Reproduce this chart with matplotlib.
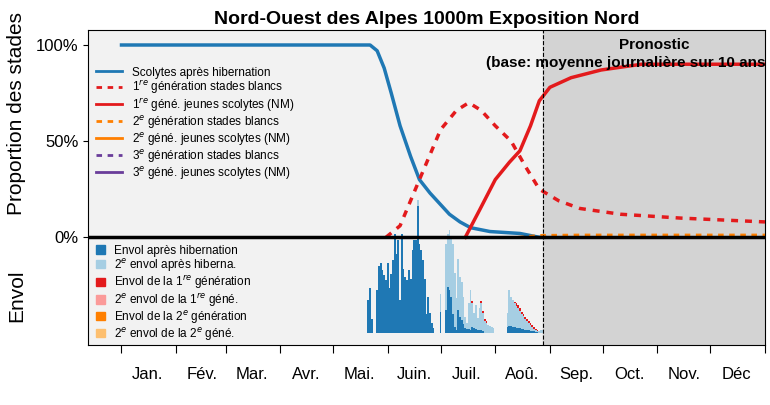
import matplotlib.pyplot as plt
from matplotlib.patches import Patch
from matplotlib.lines import Line2D

plt.rcParams["font.family"] = "Liberation Sans"

# courbes (jour de l'année, proportion)
blue_x = [0, 141, 145, 149, 153, 158, 164, 169, 175, 181, 186, 192, 198, 209, 226, 237, 240]
blue_y = [1.0, 1.0, 0.97, 0.88, 0.75, 0.58, 0.42, 0.30, 0.23, 0.17, 0.12, 0.08, 0.05, 0.03, 0.02, 0.0, 0.0]
red_dash_x = [150, 158, 169, 181, 190, 197, 204, 212, 221, 229, 237, 248, 260, 283, 317, 365]
red_dash_y = [0.0, 0.06, 0.30, 0.56, 0.66, 0.70, 0.66, 0.58, 0.50, 0.37, 0.25, 0.19, 0.15, 0.12, 0.10, 0.08]
red_x = [195, 203, 212, 220, 226, 232, 237, 243, 255, 272, 295, 365]
red_y = [0.0, 0.14, 0.30, 0.39, 0.45, 0.58, 0.71, 0.78, 0.83, 0.87, 0.90, 0.90]
orange_dash_x = [225, 237, 260, 300, 365]
orange_dash_y = [0.0, 0.01, 0.012, 0.012, 0.012]

# envols journaliers (en pixels de hauteur, à partir du jour 140)
day_start = 140
dark = [33, 45, 14, 0, 0,
        43, 67, 70, 63, 58, 53, 70, 45, 59, 73, 99, 79, 93, 33, 99, 64, 56, 53, 63, 54,
        83, 93, 93, 127, 89, 83, 73, 54, 19, 36, 20, 10, 5, 0, 0, 0, 21,
        0, 0, 23, 46, 43, 36, 19, 6, 3, 23, 16, 13, 9, 5, 4, 4, 3, 6, 5, 4, 3, 3, 3, 2,
        0, 0, 0, 0, 0, 0, 0, 0, 0, 0, 0, 0, 0,
        6, 7, 7, 6, 6, 5, 5, 5, 4, 4, 3, 3, 3, 2, 2, 2, 1, 1, 0, 0, 0]
light = [0, 0, 0, 0, 0,
         0, 0, 0, 0, 0, 0, 0, 0, 0, 0, 0, 0, 0, 0, 0, 0, 0, 0, 0, 0,
         0, 0, 0, 6, 0, 0, 0, 0, 0, 0, 0, 0, 0, 0, 0, 0, 18,
         0, 0, 66, 53, 60, 60, 70, 54, 32, 51, 40, 38, 27, 11, 6, 26, 40, 24, 15, 24, 12, 22, 27, 18,
         12, 10, 8, 7, 6, 5, 0, 0, 0, 0, 0, 0, 0,
         14, 36, 29, 27, 24, 22, 20, 17, 15, 13, 11, 9, 7, 6, 4, 2, 2, 1, 2, 3, 3]
red = [0] * 59 + [2, 0, 0, 0, 0, 2, 2, 2, 2, 0, 0, 0, 0, 0, 0, 0, 0, 0, 0, 0, 0, 0, 0, 0,
                 1, 3, 3, 3, 2, 2, 2, 2, 2, 2, 2, 2, 1, 1, 0, 0, 0, 0, 0, 0, 0]
red = red[:len(dark)]

months = ["Jan.", "Fév.", "Mar.", "Avr.", "Mai.", "Juin.", "Juil.", "Aoû.", "Sep.", "Oct.", "Nov.", "Déc"]
month_starts = [0, 31, 59, 90, 120, 151, 181, 212, 243, 273, 304, 334, 365]
forecast_day = 239

fig = plt.figure(figsize=(7.7, 4.05), dpi=100)
ax = fig.add_axes([88 / 770, 1 - 345 / 405, 677 / 770, 315 / 405])
ax.set_xlim(-19, 365)
ax.set_ylim(-0.56, 1.078)
ax.axvspan(-19, forecast_day, color="#f2f2f2", zorder=0)
ax.axvspan(forecast_day, 365, color="#d3d3d3", zorder=0)
ax.axvline(forecast_day, color="black", ls="--", lw=0.8, zorder=5)

base = -0.5
days = [day_start + i for i in range(len(dark))]
d = [v / 192 for v in dark]
l = [v / 192 for v in light]
r = [v / 192 for v in red]
ax.bar(days, d, bottom=base, width=1.0, color="#1f78b4", zorder=2)
ax.bar(days, l, bottom=[base + a for a in d], width=1.0, color="#a6cee3", zorder=2)
ax.bar(days, r, bottom=[base + a + b for a, b in zip(d, l)], width=1.0, color="#e31a1c", zorder=2)

ax.plot(blue_x, blue_y, color="#1f78b4", lw=2.5, zorder=3)
ax.plot(red_dash_x, red_dash_y, color="#e31a1c", lw=2.5, ls=(0, (2, 2)), zorder=3)
ax.plot(red_x, red_y, color="#e31a1c", lw=2.5, zorder=3)
ax.plot(orange_dash_x, orange_dash_y, color="#ff7f00", lw=2, ls=(0, (2, 2)), zorder=3)
ax.axhline(0, color="black", lw=2.5, zorder=4)

ax.set_yticks([0, 0.5, 1.0])
ax.set_yticklabels(["0%", "50%", "100%"], fontsize=12)
ax.set_xticks(month_starts)
ax.set_xticklabels([])
ax.set_xticks([s + 15 for s in month_starts[:-1]], minor=True)
ax.set_xticklabels(months, minor=True, fontsize=12)
ax.tick_params(axis="x", which="minor", length=0, pad=16)
ax.tick_params(axis="x", which="major", length=6)

ax.set_title("Nord-Ouest des Alpes 1000m Exposition Nord", fontsize=14, fontweight="bold", pad=4)
fig.text(0.022, 0.72, "Proportion des stades", rotation=90, fontsize=15, ha="center", va="center")
fig.text(0.022, 0.27, "Envol", rotation=90, fontsize=15, ha="center", va="center")
ax.text(302, 1.0, "Pronostic", fontsize=11, fontweight="bold", ha="center", va="center")
ax.text(207, 0.905, "(base: moyenne journalière sur 10 ans)", fontsize=11, fontweight="bold",
        ha="left", va="center", clip_on=True)

line_handles = [
    Line2D([], [], color="#1f78b4", lw=2),
    Line2D([], [], color="#e31a1c", lw=2, ls=(0, (2, 2))),
    Line2D([], [], color="#e31a1c", lw=2),
    Line2D([], [], color="#ff7f00", lw=2, ls=(0, (2, 2))),
    Line2D([], [], color="#ff7f00", lw=2),
    Line2D([], [], color="#6a3d9a", lw=2, ls=(0, (2, 2))),
    Line2D([], [], color="#6a3d9a", lw=2),
]
line_labels = ["Scolytes après hibernation",
               r"1$^{re}$ génération stades blancs",
               r"1$^{re}$ géné. jeunes scolytes (NM)",
               r"2$^{e}$ génération stades blancs",
               r"2$^{e}$ géné. jeunes scolytes (NM)",
               r"3$^{e}$ génération stades blancs",
               r"3$^{e}$ géné. jeunes scolytes (NM)"]
leg1 = ax.legend(line_handles, line_labels, loc="upper left", bbox_to_anchor=(0.0, 0.91),
                 frameon=False, fontsize=8.5, handlelength=2.2, labelspacing=0.0, borderaxespad=0.3)
ax.add_artist(leg1)

bar_handles = [Patch(color=c) for c in ["#1f78b4", "#a6cee3", "#e31a1c", "#fb9a99", "#ff7f00", "#fdbf6f"]]
bar_labels = ["Envol après hibernation", "2$^{e}$ envol après hiberna.",
              "Envol de la 1$^{re}$ génération", "2$^{e}$ envol de la 1$^{re}$ géné.",
              "Envol de la 2$^{e}$ génération", "2$^{e}$ envol de la 2$^{e}$ géné."]
ax.legend(bar_handles, bar_labels, loc="upper left", bbox_to_anchor=(0.0, 0.345),
          frameon=False, fontsize=8.5, handlelength=0.7, handleheight=0.7, labelspacing=0.0,
          borderaxespad=0.3)

fig.savefig("out.png", dpi=100)
